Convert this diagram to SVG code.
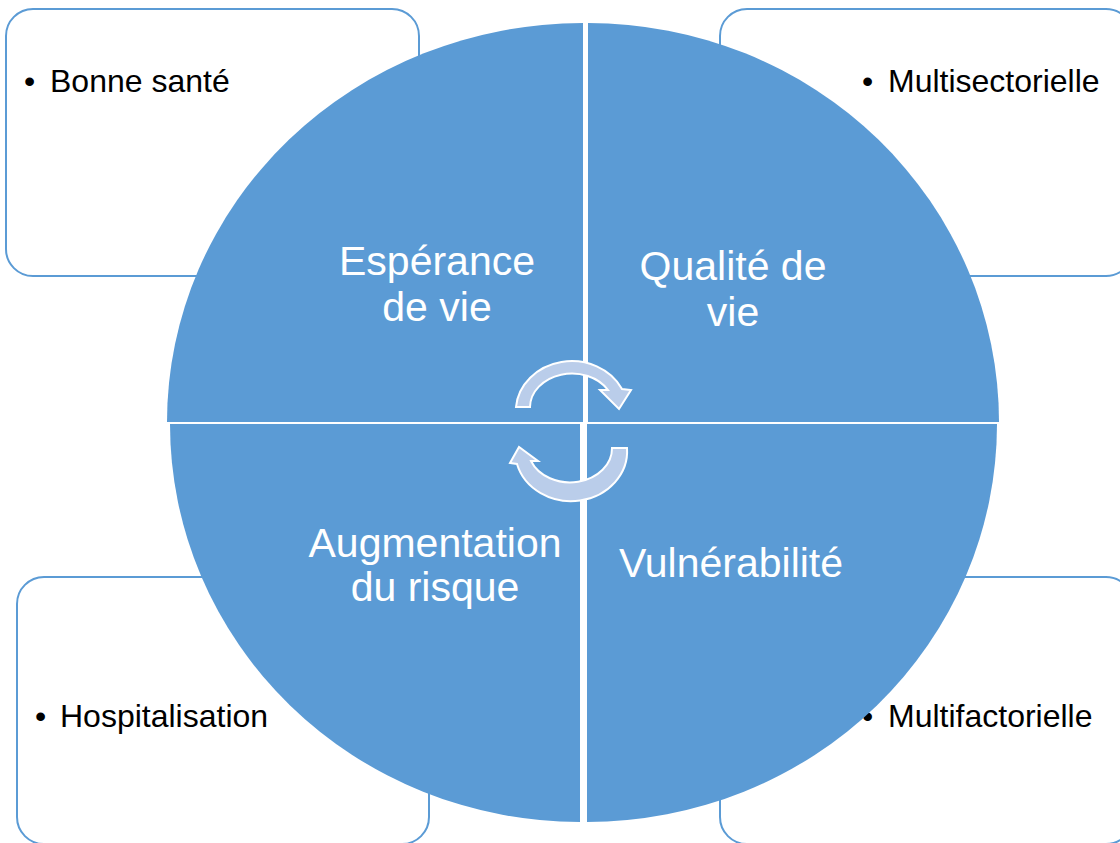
<svg xmlns="http://www.w3.org/2000/svg" width="1120" height="843" viewBox="0 0 1120 843">
<style>
.box{fill:#FFFFFF;stroke:#5B9BD5;stroke-width:2}
.quad{fill:#5B9BD5}
.btxt{font-family:"Liberation Sans",Arial,sans-serif;font-size:32px;fill:#000000}
.qtxt{font-family:"Liberation Sans",Arial,sans-serif;font-size:41px;fill:#FFFFFF;text-anchor:middle}
.arrow{fill:#BACDEA;stroke:#FFFFFF;stroke-width:2;stroke-linejoin:miter}
</style>
<rect width="1120" height="843" fill="#FFFFFF"/>
<g id="box-bonne-sante">
<rect class="box" x="6" y="9" width="413" height="267" rx="27" ry="27"/>
<text class="btxt" x="24" y="92">•</text>
<text class="btxt" x="50" y="92">Bonne santé</text>
</g>
<g id="box-multisectorielle">
<rect class="box" x="720" y="9" width="413" height="267" rx="27" ry="27"/>
<text class="btxt" x="862" y="92">•</text>
<text class="btxt" x="888" y="92">Multisectorielle</text>
</g>
<g id="box-hospitalisation">
<rect class="box" x="17" y="577" width="412" height="267" rx="27" ry="27"/>
<text class="btxt" x="35" y="727">•</text>
<text class="btxt" x="60" y="727">Hospitalisation</text>
</g>
<g id="box-multifactorielle">
<rect class="box" x="720" y="577" width="413" height="267" rx="27" ry="27"/>
<text class="btxt" x="862" y="727">•</text>
<text class="btxt" x="888" y="727">Multifactorielle</text>
</g>
<g id="quad-esperance">
<path class="quad" d="M583,422 L167,422 A416,399 0 0 1 583,23 Z"/>
<text class="qtxt" x="437" y="275">Espérance</text>
<text class="qtxt" x="437" y="321">de vie</text>
</g>
<g id="quad-qualite">
<path class="quad" d="M588,422 L588,23 A411,399 0 0 1 999,422 Z"/>
<text class="qtxt" x="733" y="280">Qualité de</text>
<text class="qtxt" x="733" y="326">vie</text>
</g>
<g id="quad-augmentation">
<path class="quad" d="M580,424 L580,822 A410,398 0 0 1 170,424 Z"/>
<text class="qtxt" x="435" y="557">Augmentation</text>
<text class="qtxt" x="435" y="601">du risque</text>
</g>
<g id="quad-vulnerabilite">
<path class="quad" d="M587,424 L997,424 A410,398 0 0 1 587,822 Z"/>
<text class="qtxt" x="731" y="577">Vulnérabilité</text>
</g>
<g id="connectors">
<path class="arrow" d="M516,407 A56,50 0 0 1 622,389 L631,390 L619,409 L600,390 L608,390 A42,34 0 0 0 530,407 Z"/>
<path class="arrow" d="M627,448 A56,50 0 0 1 517,464 L510,463 L519,447 L538,461 L531,461 A42,34 0 0 0 612,448 Z"/>
</g>
</svg>
